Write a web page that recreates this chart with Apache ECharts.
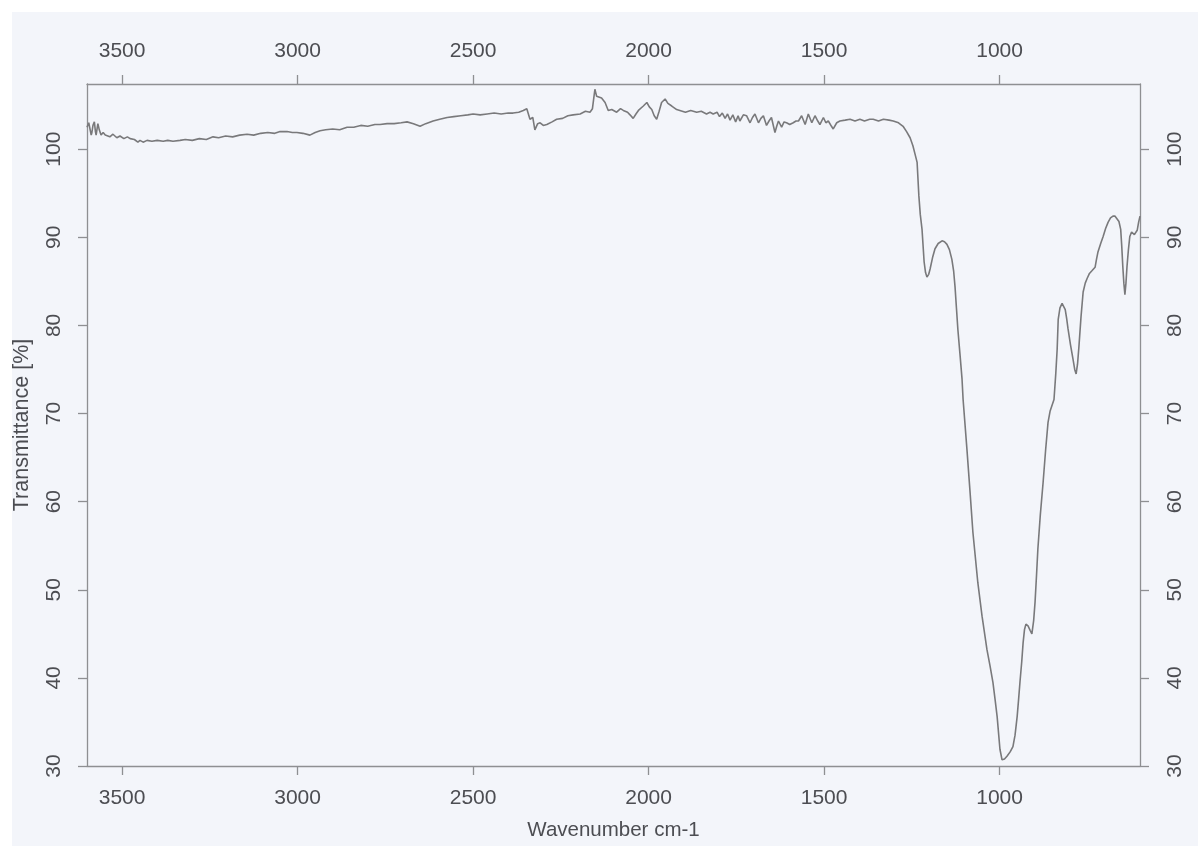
<!DOCTYPE html>
<html>
<head>
<meta charset="utf-8">
<script src="https://cdn.jsdelivr.net/npm/echarts@6/dist/echarts.min.js"></script>
<style>
  html, body { margin: 0; padding: 0; background: #ffffff; }
  #chart {
    width: 1198px; height: 846px;
    background: #f3f5fa;
    box-shadow: inset 12px 12px 0 #ffffff;
  }
</style>
</head>
<body>
<div id="chart"></div>
<script>
// IR spectrum: wavenumber (cm-1) and transmittance (%)
const wavenumber = [
  3600, 3595, 3591, 3588, 3586, 3583, 3579, 3576, 3574, 3571, 3569, 3565, 3560, 3554, 3548, 3543,
  3535, 3526, 3515, 3506, 3495, 3485, 3477, 3465, 3455, 3449, 3440, 3429, 3415, 3400, 3383, 3370,
  3355, 3335, 3320, 3300, 3280, 3260, 3241, 3225, 3205, 3185, 3165, 3144, 3125, 3105, 3085, 3065,
  3050, 3030, 3015, 3002, 2985, 2965, 2950, 2936, 2920, 2900, 2880, 2859, 2840, 2820, 2800, 2780,
  2765, 2745, 2725, 2705, 2688, 2670, 2651, 2635, 2614, 2595, 2574, 2555, 2535, 2515, 2500, 2480,
  2460, 2440, 2420, 2400, 2386, 2370, 2357, 2347, 2338, 2330, 2324, 2316, 2309, 2300, 2290, 2275,
  2262, 2245, 2230, 2215, 2195, 2180, 2167, 2160, 2153, 2148, 2143, 2134, 2124, 2115, 2105, 2091,
  2080, 2072, 2060, 2053, 2044, 2036, 2029, 2015, 2005, 1998, 1991, 1984, 1977, 1970, 1963, 1953,
  1945, 1934, 1920, 1911, 1895, 1880, 1863, 1850, 1835, 1825, 1816, 1805, 1798, 1790, 1782, 1775,
  1768, 1760, 1752, 1745, 1740, 1730, 1721, 1711, 1704, 1697, 1687, 1680, 1673, 1664, 1657, 1650,
  1640, 1635, 1630, 1621, 1614, 1607, 1598, 1588, 1580, 1573, 1564, 1554, 1545, 1535, 1526, 1518,
  1512, 1502, 1495, 1488, 1479, 1474, 1464, 1455, 1440, 1426, 1412, 1398, 1385, 1370, 1360, 1345,
  1331, 1315, 1303, 1288, 1275, 1265, 1255, 1247, 1240, 1235, 1230, 1226, 1221, 1215, 1211, 1207,
  1202, 1198, 1191, 1184, 1175, 1164, 1157, 1150, 1143, 1136, 1131, 1127, 1123, 1119, 1113, 1107,
  1104, 1093, 1084, 1076, 1062, 1050, 1036, 1027, 1019, 1013, 1007, 999, 993, 986, 979, 970,
  962, 956, 950, 946, 942, 937, 933, 929, 925, 919, 913, 908, 903, 899, 895, 891,
  884, 876, 869, 862, 856, 851, 845, 840, 836, 833, 828, 822, 817, 813, 809, 805,
  798, 791, 786, 782, 778, 774, 768, 762, 756, 751, 744, 737, 728, 724, 720, 712,
  705, 698, 691, 684, 677, 671, 666, 660, 655, 652, 649, 646, 643, 640, 637, 633,
  629, 624, 620, 616, 612, 608, 604, 600
];
const transmittance = [
  102.5, 103.0, 102.8, 101.6, 101.9, 102.7, 103.1, 102.0, 101.6, 102.4, 102.9, 102.2, 101.6, 101.9, 101.6, 101.7,
  101.4, 101.7, 101.3, 101.5, 101.2, 101.4, 101.2, 101.1, 100.8, 101.0, 100.8, 101.0, 100.9, 101.0, 100.9, 101.0,
  100.9, 101.0, 101.1, 101.0, 101.2, 101.1, 101.4, 101.3, 101.5, 101.4, 101.6, 101.7, 101.6, 101.8, 101.9, 101.8,
  102.0, 102.0, 101.9, 101.9, 101.8, 101.6, 101.9, 102.1, 102.2, 102.3, 102.2, 102.5, 102.5, 102.7, 102.6, 102.8,
  102.8, 102.9, 102.9, 103.0, 103.1, 102.9, 102.6, 102.9, 103.2, 103.4, 103.6, 103.7, 103.8, 103.9, 104.0, 103.9,
  104.0, 104.1, 104.0, 104.1, 104.1, 104.2, 104.4, 104.6, 103.4, 103.6, 102.2, 102.9, 103.0, 102.7, 102.8, 103.1,
  103.4, 103.5, 103.8, 103.9, 104.0, 104.3, 104.2, 104.6, 106.8, 106.0, 106.2, 105.8, 105.3, 104.4, 104.5, 104.2,
  104.6, 104.4, 104.2, 103.9, 103.5, 104.0, 104.4, 104.9, 105.3, 104.8, 104.5, 103.8, 103.4, 104.3, 105.3, 105.7,
  105.2, 104.9, 104.5, 104.4, 104.2, 104.4, 104.2, 104.3, 104.0, 104.2, 104.0, 104.2, 103.7, 104.1, 103.5, 104.0,
  103.3, 103.9, 103.1, 103.8, 103.2, 103.9, 103.8, 103.0, 103.6, 104.0, 103.0, 103.5, 103.8, 102.7, 103.2, 103.6,
  101.9, 102.6, 103.2, 102.5, 103.1, 103.0, 102.8, 103.0, 103.2, 103.2, 103.8, 102.8, 104.0, 103.0, 103.8, 103.2,
  102.8, 103.6, 103.0, 103.2, 102.6, 102.3, 103.0, 103.2, 103.3, 103.4, 103.2, 103.4, 103.2, 103.4, 103.4, 103.2,
  103.4, 103.3, 103.2, 103.0, 102.6, 102.0, 101.3, 100.4, 99.3, 98.5, 94.7, 92.6, 90.9, 87.2, 86.0, 85.5,
  85.8, 86.4, 87.7, 88.7, 89.3, 89.6, 89.5, 89.2, 88.6, 87.5, 86.2, 84.4, 82.0, 79.6, 76.8, 73.9,
  71.6, 65.9, 61.0, 56.5, 50.8, 47.0, 43.2, 41.3, 39.5, 37.6, 35.6, 31.9, 30.7, 30.8, 31.1, 31.6,
  32.2, 33.5, 35.6, 37.5, 39.5, 41.8, 44.0, 45.5, 46.1, 45.9, 45.4, 45.0, 46.5, 48.6, 51.5, 54.6,
  58.5, 62.2, 65.8, 69.0, 70.3, 70.5, 71.6, 74.5, 77.3, 80.7, 82.0, 82.5, 82.3, 81.8, 80.8, 79.6,
  77.8, 76.2, 75.0, 74.5, 75.6, 77.6, 81.0, 83.8, 84.8, 85.3, 85.9, 86.2, 86.6, 87.5, 88.3, 89.3,
  90.1, 91.0, 91.7, 92.2, 92.4, 92.4, 92.3, 91.8, 90.9, 89.0, 86.7, 84.8, 83.5, 84.8, 86.7, 88.6,
  90.1, 90.6, 90.6, 90.3, 90.1, 90.8, 91.7, 92.4
];
const xTicks = [1000, 1500, 2000, 2500, 3000, 3500];
const yTicks = [30, 40, 50, 60, 70, 80, 90, 100];

const frameColor = '#8e8f92';
const textColor = '#4c4d52';
const fontFamily = 'Liberation Sans, Arial, sans-serif';
const labelFont = { fontFamily: fontFamily, fontSize: 21, color: textColor, formatter: (v) => String(v) };

function xAxisDef(position, extra) {
  return Object.assign({
    type: 'value', position: position, min: 600, max: 3600, inverse: true,
    axisLine: { show: true, onZero: false, lineStyle: { color: frameColor, width: 1.3 } },
    axisTick: { show: true, inside: false, length: 9, customValues: xTicks, lineStyle: { color: frameColor, width: 1.3 } },
    axisLabel: Object.assign({ customValues: xTicks, margin: 22 }, labelFont),
    splitLine: { show: false }
  }, extra || {});
}
function yAxisDef(position, margin, extra) {
  return Object.assign({
    type: 'value', position: position, min: 30, max: 107.4,
    axisLine: { show: true, onZero: false, lineStyle: { color: frameColor, width: 1.3 } },
    axisTick: { show: true, inside: false, length: 9, customValues: yTicks, lineStyle: { color: frameColor, width: 1.3 } },
    axisLabel: Object.assign({ customValues: yTicks, margin: margin, rotate: 90 }, labelFont),
    splitLine: { show: false }
  }, extra || {});
}

const chart = echarts.init(document.getElementById('chart'), null, { renderer: 'canvas' });
chart.setOption({
  animation: false,
  backgroundColor: 'transparent',
  grid: { left: 87, right: 58, top: 84, bottom: 80, containLabel: false },
  xAxis: [
    xAxisDef('bottom', {
      name: 'Wavenumber cm-1', nameLocation: 'middle', nameGap: 54,
      nameTextStyle: { fontFamily: fontFamily, fontSize: 20.5, color: textColor }
    }),
    xAxisDef('top')
  ],
  yAxis: [
    yAxisDef('left', 22, {
      name: 'Transmittance [%]', nameLocation: 'middle', nameGap: 54,
      nameTextStyle: { fontFamily: fontFamily, fontSize: 21.5, color: textColor }
    }),
    yAxisDef('right', 25)
  ],
  series: [{
    type: 'line',
    xAxisIndex: 0,
    yAxisIndex: 0,
    data: wavenumber.map((w, i) => [w, transmittance[i]]),
    showSymbol: false,
    smooth: false,
    lineStyle: { color: '#79797b', width: 1.6 },
    clip: true
  }]
});
</script>
</body>
</html>
